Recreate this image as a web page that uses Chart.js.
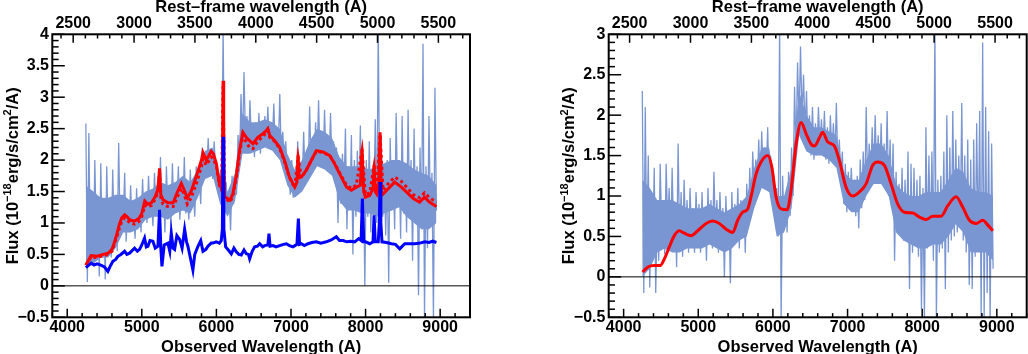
<!DOCTYPE html>
<html>
<head>
<meta charset="utf-8">
<script src="https://cdn.jsdelivr.net/npm/chart.js@4.4.1/dist/chart.umd.min.js"></script>
<style>
body{margin:0;background:#fff;}
.pane{position:absolute;top:0;width:514px;height:354px;}
#p1{left:0}
#p2{left:514px}
</style>
</head>
<body>
<div class="pane" id="p1"><canvas id="c1" width="514" height="354"></canvas></div>
<div class="pane" id="p2"><canvas id="c2" width="514" height="354"></canvas></div>
<script>
// observed -> rest frame factor (1+z)
const zp1 = 1.632;

const xTicks = [4000, 5000, 6000, 7000, 8000, 9000];
const restTicks = [2500, 3000, 3500, 4000, 4500, 5000, 5500];
const yTicksL = [-0.5, 0, 0.5, 1, 1.5, 2, 2.5, 3, 3.5, 4];
const yTicksR = [-0.5, 0, 0.5, 1, 1.5, 2, 2.5, 3];

// y title pieces: [text, is superscript]
const yTitle = [['Flux (10', false], ['\u221218', true], ['erg/s/cm', false], ['2', true], ['/A)', false]];

// observed spectrum pixels (A)
const specWave = [
  4250,4270,4290,4310,4330,4350,4370,4390,4410,4430,
  4450,4470,4490,4510,4530,4550,4570,4590,4610,4630,
  4650,4670,4690,4710,4730,4750,4770,4790,4810,4830,
  4850,4870,4890,4910,4930,4950,4970,4990,5010,5030,
  5050,5070,5090,5110,5130,5150,5170,5190,5210,5230,
  5250,5270,5290,5310,5330,5350,5370,5390,5410,5430,
  5450,5470,5490,5510,5530,5550,5570,5590,5610,5630,
  5650,5670,5690,5710,5730,5750,5770,5790,5810,5830,
  5850,5870,5890,5910,5930,5950,5970,5990,6010,6030,
  6050,6070,6090,6110,6130,6150,6170,6190,6210,6230,
  6250,6270,6290,6310,6330,6350,6370,6390,6410,6430,
  6450,6470,6490,6510,6530,6550,6570,6590,6610,6630,
  6650,6670,6690,6710,6730,6750,6770,6790,6810,6830,
  6850,6870,6890,6910,6930,6950,6970,6990,7010,7030,
  7050,7070,7090,7110,7130,7150,7170,7190,7210,7230,
  7250,7270,7290,7310,7330,7350,7370,7390,7410,7430,
  7450,7470,7490,7510,7530,7550,7570,7590,7610,7630,
  7650,7670,7690,7710,7730,7750,7770,7790,7810,7830,
  7850,7870,7890,7910,7930,7950,7970,7990,8010,8030,
  8050,8070,8090,8110,8130,8150,8170,8190,8210,8230,
  8250,8270,8290,8310,8330,8350,8370,8390,8410,8430,
  8450,8470,8490,8510,8530,8550,8570,8590,8610,8630,
  8650,8670,8690,8710,8730,8750,8770,8790,8810,8830,
  8850,8870,8890,8910,8930,8950];

// left panel: observed flux
const specFlux = [
  2.58,0.06,2.43,0.55,1.3,0.35,2.0,0.8,1.1,0.15,
  1.95,0.6,1.2,0.1,1.9,0.7,1.05,0.45,1.85,0.75,
  1.3,0.55,2.27,0.85,1.4,0.95,1.8,0.7,1.25,0.9,
  1.6,0.95,1.2,0.75,1.55,1.0,1.25,0.85,1.7,1.1,
  1.4,1.0,1.75,1.15,1.35,0.95,1.8,1.2,1.45,1.05,
  2.05,1.2,1.5,0.85,1.9,1.1,1.45,0.95,1.95,1.15,
  1.5,1.2,1.9,1.05,1.55,1.25,2.05,1.15,1.5,1.05,
  1.85,1.3,1.5,1.1,1.9,1.45,1.7,1.3,2.2,1.7,
  1.95,1.75,2.35,1.8,2.05,1.7,2.3,1.85,1.75,1.5,
  1.8,1.35,4.1,1.4,1.65,1.2,1.45,0.88,1.75,1.3,
  1.75,1.45,2.4,1.9,3.05,2.2,3.4,2.35,2.7,2.15,
  2.95,2.25,2.5,2.05,2.6,2.2,2.75,2.1,2.5,2.3,
  2.7,2.3,2.85,2.2,2.55,2.3,2.9,2.1,2.5,2.15,
  3.05,2.05,2.45,1.95,2.3,1.7,1.95,1.45,2.0,1.4,
  1.75,1.45,2.3,1.55,1.9,1.6,2.45,1.65,2.1,1.75,
  2.85,1.85,2.25,1.9,2.6,2.0,2.95,1.95,2.4,1.9,
  2.8,1.95,2.4,1.85,2.75,1.9,2.3,1.7,2.2,1.0,
  1.95,1.3,2.1,1.45,2.5,0.9,1.9,1.25,2.4,0.5,
  2.0,1.1,2.15,1.3,2.55,1.2,1.85,0.0,2.0,1.1,
  2.3,0.85,1.8,1.25,2.65,1.0,4.1,1.2,2.4,1.1,
  1.9,0.8,2.0,0.05,2.35,1.2,1.8,0.9,2.75,1.3,
  2.0,0.75,2.7,1.15,1.95,0.85,2.8,1.2,2.0,0.4,
  2.5,1.1,1.9,-0.15,2.2,0.9,3.85,-0.5,1.9,0.6,
  2.7,1.0,1.8,-0.55,3.15,1.2];

// right panel: host-subtracted flux
const subFlux = [
  2.3,-0.2,2.1,0.3,1.5,-0.13,1.0,0.4,1.35,-0.2,
  0.8,0.2,1.4,0.55,0.9,0.28,1.4,0.6,1.1,0.4,
  1.35,0.5,0.9,0.12,1.65,0.4,1.05,0.25,1.2,0.55,
  0.95,0.3,1.1,0.5,0.85,0.3,1.05,0.55,0.9,0.3,
  1.05,0.45,0.85,0.2,1.1,0.55,0.95,0.35,1.3,0.5,
  0.95,0.3,1.05,0.55,0.85,0.0,1.0,0.45,0.8,-0.08,
  1.05,0.4,0.9,0.5,1.1,0.35,0.95,0.6,0.9,0.3,
  1.15,0.6,1.35,0.75,1.55,0.95,1.45,1.05,1.7,1.1,
  1.8,1.15,1.6,1.25,1.85,1.05,1.5,0.95,1.25,0.7,
  1.1,0.5,3.1,-0.55,1.25,0.6,1.0,0.55,1.3,0.75,
  1.6,1.0,2.35,1.5,2.65,1.9,2.85,1.95,2.5,1.8,
  2.3,1.55,2.0,1.5,2.1,1.45,1.9,1.5,2.1,1.6,
  1.95,1.55,2.05,1.45,1.85,1.4,2.0,1.5,1.9,1.45,
  2.15,1.35,1.7,1.2,1.55,0.9,1.4,0.8,1.3,0.85,
  1.35,0.85,1.2,0.75,1.25,0.6,1.45,0.85,1.55,0.95,
  2.1,1.05,1.65,1.15,1.85,1.2,2.0,1.25,1.75,1.2,
  1.9,1.15,1.65,1.1,2.05,1.0,1.7,0.85,1.65,0.2,
  1.3,0.6,1.15,0.5,1.35,0.45,1.2,0.5,1.55,-0.15,
  1.4,0.3,1.35,0.4,1.2,0.25,1.25,-0.4,1.1,-0.55,
  1.85,0.35,1.5,0.4,1.55,0.2,3.1,-0.55,1.2,0.3,
  1.25,0.35,1.55,-0.15,2.0,0.3,1.6,0.45,2.05,0.5,
  1.7,0.55,1.5,0.6,2.15,0.45,1.5,0.3,1.7,-0.1,
  1.45,-0.15,1.7,0.25,1.9,0.35,2.05,-0.5,2.9,-0.55,
  2.1,-0.2,1.8,-0.55,1.65,0.1];

// dense part of the error band (1 sigma), both panels
const coreWave = [
  4250,4350,4450,4550,4650,4750,4850,4950,5050,5150,
  5250,5350,5450,5550,5650,5750,5850,5950,6050,6150,
  6250,6350,6450,6550,6650,6750,6850,6950,7050,7150,
  7250,7350,7450,7550,7650,7750,7850,7950,8050,8150,
  8250,8350,8450,8550,8650,8750,8850,8950];
const coreHiL = [
  1.6,1.5,1.4,1.4,1.45,1.45,1.35,1.4,1.5,1.55,
  1.65,1.6,1.65,1.75,1.65,1.85,2.15,2.2,1.7,1.5,
  1.8,2.75,2.6,2.6,2.65,2.6,2.5,2.1,1.85,2.0,
  2.3,2.5,2.45,2.35,2.05,1.9,1.9,1.9,1.85,1.9,
  1.95,2.0,2.0,1.95,1.85,1.8,1.75,1.6];
const coreLoL = [
  0.3,0.35,0.45,0.45,0.6,0.85,0.85,0.9,1.05,1.1,
  1.1,1.05,1.15,1.2,1.15,1.4,1.7,1.75,1.3,1.1,
  1.35,2.1,2.1,2.15,2.2,2.15,2.0,1.6,1.4,1.5,
  1.7,1.9,1.85,1.75,1.35,1.2,1.2,1.15,1.15,1.1,
  1.15,1.2,1.25,1.1,1.0,0.9,0.9,1.0];
const coreHiR = [
  1.2,1.1,0.95,0.95,0.95,0.9,0.85,0.85,0.85,0.9,
  0.85,0.8,0.85,0.9,1.0,1.35,1.6,1.6,1.0,1.0,
  1.35,2.3,2.0,1.85,1.85,1.8,1.75,1.3,1.2,1.2,
  1.45,1.65,1.65,1.5,1.15,1.05,1.0,1.0,1.05,1.05,
  1.05,1.2,1.35,1.3,1.1,1.05,1.05,1.0];
const coreLoR = [
  0.0,0.1,0.3,0.35,0.3,0.3,0.35,0.35,0.35,0.4,
  0.35,0.3,0.35,0.45,0.5,0.85,1.1,1.05,0.5,0.55,
  0.85,1.75,1.55,1.5,1.5,1.45,1.35,0.9,0.8,0.8,
  1.0,1.15,1.15,1.0,0.55,0.45,0.4,0.35,0.35,0.4,
  0.4,0.5,0.65,0.55,0.3,0.3,0.3,0.2];

// left panel: total fit (red)
const fitWave = [
  4250,4290,4320,4400,4480,4550,4600,4630,4660,4700,
  4730,4770,4800,4840,4900,4960,5000,5040,5080,5130,
  5180,5215,5238,5255,5285,5350,5420,5480,5530,5570,
  5610,5660,5730,5800,5820,5865,5930,5960,6000,6040,
  6070,6082,6090,6098,6110,6180,6220,6270,6310,6355,
  6400,6445,6490,6555,6625,6670,6690,6715,6780,6850,
  6915,6980,7050,7080,7095,7110,7140,7205,7270,7340,
  7430,7520,7585,7675,7745,7810,7875,7930,7953,7975,
  7997,8056,8100,8114,8130,8150,8175,8194,8212,8234,
  8300,8390,8480,8550,8640,8725,8790,8860,8950];
const fitFlux = [
  0.33,0.42,0.48,0.47,0.5,0.52,0.58,0.68,0.8,0.98,
  1.08,1.13,1.1,1.05,1.03,1.07,1.15,1.35,1.3,1.32,
  1.42,1.53,1.87,1.45,1.37,1.32,1.32,1.5,1.63,1.52,
  1.4,1.5,1.74,2.0,2.12,2.0,2.14,2.1,1.94,1.62,
  1.55,2.0,3.26,2.0,1.42,1.36,1.46,1.78,2.15,2.44,
  2.36,2.31,2.26,2.36,2.42,2.47,2.5,2.39,2.31,2.2,
  1.99,1.73,1.57,1.65,2.07,1.72,1.73,1.84,1.99,2.15,
  2.13,2.07,1.94,1.73,1.57,1.52,1.57,1.6,2.18,1.5,
  1.41,1.44,1.55,1.92,1.5,1.46,1.6,2.44,1.5,1.46,
  1.54,1.65,1.57,1.49,1.39,1.33,1.41,1.33,1.26];

// left panel: alternative fit (red dotted)
const fit2Wave = [
  4250,4320,4400,4480,4550,4600,4660,4700,4730,4770,
  4800,4840,4900,4960,5000,5040,5080,5130,5180,5215,
  5238,5255,5285,5350,5420,5480,5530,5570,5610,5660,
  5730,5800,5820,5865,5930,5960,6000,6040,6070,6090,
  6110,6180,6220,6270,6310,6355,6400,6445,6490,6555,
  6625,6670,6690,6715,6780,6850,6915,6980,7050,7095,
  7140,7205,7270,7340,7430,7520,7585,7675,7745,7810,
  7875,7953,7997,8056,8114,8150,8194,8234,8300,8390,
  8480,8550,8640,8725,8790,8860,8950];
const fit2Flux = [
  0.33,0.46,0.45,0.48,0.5,0.55,0.76,0.92,1.02,1.08,
  1.05,1.0,0.98,1.02,1.1,1.28,1.25,1.28,1.38,1.48,
  1.8,1.4,1.3,1.26,1.26,1.42,1.55,1.45,1.3,1.4,
  1.62,1.9,2.02,1.92,2.05,2.02,1.9,1.6,1.52,3.2,
  1.4,1.33,1.42,1.74,2.1,2.4,2.28,2.2,2.18,2.3,
  2.38,2.44,2.47,2.36,2.3,2.18,1.97,1.72,1.56,2.05,
  1.72,1.84,1.99,2.14,2.12,2.07,1.95,1.75,1.6,1.55,
  1.6,2.15,1.45,1.48,1.9,1.5,2.4,1.52,1.62,1.73,
  1.66,1.57,1.45,1.4,1.48,1.4,1.33];

// left panel: host galaxy component (blue)
const hostWave = [
  4250,4290,4320,4360,4400,4450,4500,4545,4580,4612,
  4650,4679,4720,4769,4800,4836,4870,4903,4940,4970,
  5000,5037,5060,5082,5110,5149,5180,5216,5238,5255,
  5270,5300,5350,5375,5395,5420,5440,5470,5507,5540,
  5574,5600,5618,5650,5685,5710,5753,5790,5820,5860,
  5887,5930,5954,5998,6040,6065,6080,6090,6100,6124,
  6160,6200,6235,6267,6300,6334,6370,6401,6430,6446,
  6480,6513,6550,6580,6620,6647,6690,6705,6720,6759,
  6800,6848,6900,6938,6980,7027,7080,7099,7115,7139,
  7180,7228,7280,7340,7400,7474,7540,7608,7650,7698,
  7750,7800,7854,7908,7940,7957,7975,8000,8056,8100,
  8114,8130,8170,8184,8194,8205,8220,8280,8346,8400,
  8458,8500,8525,8600,8660,8730,8793,8850,8900,8950];
const hostFlux = [
  0.29,0.33,0.36,0.33,0.35,0.33,0.3,0.23,0.32,0.39,
  0.42,0.47,0.5,0.55,0.5,0.52,0.56,0.6,0.55,0.58,
  0.65,0.76,0.62,0.63,0.72,0.71,0.6,0.63,1.21,0.6,
  0.31,0.65,0.68,0.55,0.84,0.6,0.58,0.8,0.74,0.6,
  0.9,0.7,0.63,0.45,0.25,0.5,0.63,0.72,0.55,0.58,
  0.63,0.68,0.68,0.7,0.68,0.72,0.9,2.37,0.9,0.62,
  0.57,0.51,0.6,0.54,0.5,0.49,0.57,0.51,0.5,0.43,
  0.55,0.62,0.63,0.67,0.62,0.64,0.65,0.83,0.63,0.64,
  0.62,0.64,0.66,0.67,0.64,0.62,0.66,1.07,0.66,0.67,
  0.64,0.67,0.69,0.7,0.68,0.7,0.73,0.78,0.72,0.72,
  0.7,0.71,0.7,0.75,0.72,1.39,0.7,0.7,0.67,0.7,
  1.12,0.7,0.7,1.0,1.65,1.0,0.7,0.69,0.67,0.66,
  0.59,0.64,0.67,0.67,0.67,0.68,0.7,0.69,0.71,0.69];

// right panel: smoothed AGN spectrum (red)
const smoothWave = [
  4254,4321,4411,4491,4545,4612,4679,4746,4813,4902,
  4992,5104,5193,5282,5372,5461,5528,5595,5662,5716,
  5774,5841,5931,5985,6042,6109,6190,6243,6311,6378,
  6445,6512,6557,6628,6666,6733,6823,6890,6979,7069,
  7158,7248,7337,7404,7493,7583,7672,7762,7873,7963,
  8052,8142,8253,8343,8454,8544,8633,8723,8812,8879,
  8947];
const smoothFlux = [
  0.06,0.12,0.14,0.14,0.22,0.37,0.51,0.57,0.54,0.51,
  0.57,0.66,0.69,0.66,0.59,0.55,0.7,0.8,0.84,1.03,
  1.27,1.42,1.5,1.36,0.99,0.84,0.83,1.07,1.64,1.91,
  1.77,1.64,1.62,1.73,1.79,1.67,1.62,1.44,1.11,1.0,
  1.05,1.15,1.38,1.42,1.38,1.15,0.9,0.8,0.79,0.74,
  0.71,0.75,0.75,0.88,0.99,0.86,0.7,0.66,0.7,0.64,
  0.57];

const fam = '"Liberation Sans", Arial, Helvetica, sans-serif';
const bandCol = 'rgb(122,150,210)';

function xy(xs, ys) {
  return xs.map((x, i) => ({x: x, y: ys[i]}));
}

function minus(v) {
  return String(v).replace('-', '\u2212');
}

// ROOT style frame with ticks drawn inside, plus the y title with superscripts
const framePlugin = {
  id: 'frame',
  afterDatasetsDraw(chart, args, opts) {
    const ctx = chart.ctx;
    const a = chart.chartArea;
    const sx = chart.scales.x, sr = chart.scales.xr, sy = chart.scales.y;
    const seg = (x1, y1, x2, y2) => { ctx.beginPath(); ctx.moveTo(x1, y1); ctx.lineTo(x2, y2); ctx.stroke(); };
    ctx.save();
    ctx.strokeStyle = '#000';
    ctx.lineWidth = 1;
    const y0 = sy.getPixelForValue(0);
    seg(a.left, y0, a.right, y0);
    ctx.lineWidth = 1.5;
    for (let v = 3800; v <= 9400; v += 200) {
      const px = sx.getPixelForValue(v);
      seg(px, a.bottom, px, a.bottom - (v % 1000 === 0 ? 8.5 : 4.2));
    }
    for (let v = 2400; v <= 5700; v += 100) {
      const px = sr.getPixelForValue(v);
      if (px < a.left || px > a.right) continue;
      seg(px, a.top, px, a.top + (v % 500 === 0 ? 8.5 : 4.2));
    }
    const top = Math.round(sy.max * 10);
    for (let i = -5; i <= top; i++) {
      const py = sy.getPixelForValue(i / 10);
      seg(a.left, py, a.left + (i % 5 === 0 ? 12.5 : 6.3), py);
    }
    ctx.lineWidth = 2;
    ctx.strokeRect(a.left, a.top, a.right - a.left, a.bottom - a.top);

    // rotated y title
    const big = 'bold 16.5px ' + fam, small = 'bold 11px ' + fam;
    let total = 0;
    yTitle.forEach(p => { ctx.font = p[1] ? small : big; total += ctx.measureText(p[0]).width; });
    ctx.translate(opts.titleX, (a.top + a.bottom) / 2);
    ctx.rotate(-Math.PI / 2);
    ctx.fillStyle = '#000';
    ctx.textAlign = 'left';
    ctx.textBaseline = 'alphabetic';
    let u = -total / 2;
    yTitle.forEach(p => {
      ctx.font = p[1] ? small : big;
      ctx.fillText(p[0], u, p[1] ? -0.5 : 5.9);
      u += ctx.measureText(p[0]).width;
    });
    ctx.restore();
  }
};

function makeScales(yMax, yTicks, yWidth) {
  const tickFont = {family: fam, size: 16, weight: 'bold', lineHeight: 1};
  const titleFont = {family: fam, size: 16.5, weight: 'bold', lineHeight: 1};
  return {
    x: {
      type: 'linear', axis: 'x', position: 'bottom', min: 3800, max: 9400,
      afterBuildTicks: s => { s.ticks = xTicks.map(v => ({value: v})); },
      afterFit: s => { s.height = 36.7; },
      grid: {display: false, drawTicks: false}, border: {display: false},
      ticks: {font: tickFont, color: '#000', padding: 2.2, maxRotation: 0, autoSkip: false, callback: v => String(v)},
      title: {display: true, text: 'Observed Wavelength (A)', font: titleFont, color: '#000', padding: {top: 0, bottom: -1.5}}
    },
    xr: {
      type: 'linear', axis: 'x', position: 'top', min: 3800 / zp1, max: 9400 / zp1,
      afterBuildTicks: s => { s.ticks = restTicks.map(v => ({value: v})); },
      afterFit: s => { s.height = 34.3; },
      grid: {display: false, drawTicks: false}, border: {display: false},
      ticks: {font: tickFont, color: '#000', padding: 2.5, maxRotation: 0, autoSkip: false, callback: v => String(v)},
      title: {display: true, text: 'Rest\u2013frame wavelength (A)', font: titleFont, color: '#000', padding: {top: -1, bottom: 0}}
    },
    y: {
      type: 'linear', axis: 'y', position: 'left', min: -0.5, max: yMax,
      afterBuildTicks: s => { s.ticks = yTicks.map(v => ({value: v})); },
      afterFit: s => { s.width = yWidth; },
      grid: {display: false, drawTicks: false}, border: {display: false},
      ticks: {font: tickFont, color: '#000', padding: 3.3, autoSkip: false, callback: v => minus(v)},
      title: {display: false}
    }
  };
}

function line(data, color, width, order, extra) {
  return Object.assign({
    data: data, borderColor: color, borderWidth: width, pointRadius: 0,
    fill: false, tension: 0, order: order, xAxisID: 'x', yAxisID: 'y'
  }, extra || {});
}

function baseOptions(scales, padRight, titleX) {
  return {
    responsive: false, animation: false, devicePixelRatio: 1, events: [],
    layout: {padding: {left: 0, right: padRight, top: 0, bottom: 0}},
    plugins: {legend: {display: false}, tooltip: {enabled: false}, frame: {titleX: titleX}},
    scales: scales
  };
}

new Chart(document.getElementById('c1'), {
  type: 'line',
  data: {
    datasets: [
      line(xy(coreWave, coreHiL), bandCol, 0, 6, {fill: '+1', backgroundColor: bandCol}),
      line(xy(coreWave, coreLoL), bandCol, 0, 6),
      line(xy(specWave, specFlux), bandCol, 1.3, 5, {borderJoinStyle: 'bevel'}),
      line(xy(fit2Wave, fit2Flux), '#ff0000', 3, 4, {borderDash: [3, 3]}),
      line(xy(fitWave, fitFlux), '#ff0000', 3, 3),
      line(xy(hostWave, hostFlux), '#0000ff', 3, 2)
    ]
  },
  options: baseOptions(makeScales(4, yTicksL, 52.3), 44, 11.7),
  plugins: [framePlugin]
});

new Chart(document.getElementById('c2'), {
  type: 'line',
  data: {
    datasets: [
      line(xy(coreWave, coreHiR), bandCol, 0, 6, {fill: '+1', backgroundColor: bandCol}),
      line(xy(coreWave, coreLoR), bandCol, 0, 6),
      line(xy(specWave, subFlux), bandCol, 1.3, 5, {borderJoinStyle: 'bevel'}),
      line(xy(smoothWave, smoothFlux), '#ff0000', 3, 3, {cubicInterpolationMode: 'monotone'})
    ]
  },
  options: baseOptions(makeScales(3, yTicksR, 94.7), 1.3, 54.2),
  plugins: [framePlugin]
});
</script>
</body>
</html>
